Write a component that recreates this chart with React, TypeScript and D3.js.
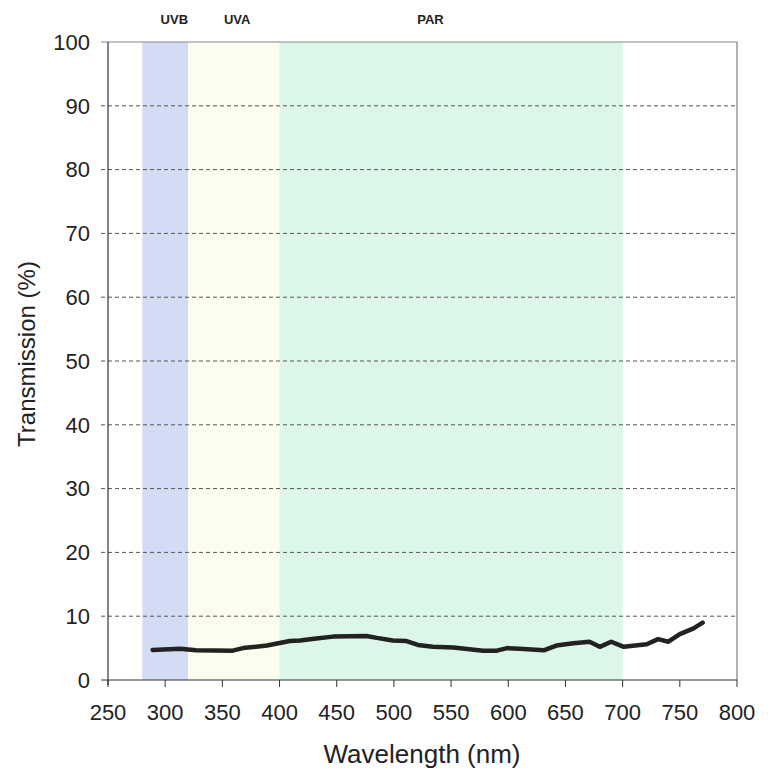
import React from 'react';
import * as d3 from 'd3';

// transmission curve
const wavelengths = [289, 313, 327, 359, 368, 389, 409, 418, 432, 447, 476, 485, 499, 511, 521, 534, 552, 578, 590, 599, 610, 631, 642, 657, 671, 680, 690, 701, 721, 731, 740, 750, 762, 770];
const transmission = [4.7, 4.9, 4.65, 4.6, 5.0, 5.4, 6.1, 6.2, 6.5, 6.8, 6.9, 6.6, 6.2, 6.1, 5.5, 5.2, 5.1, 4.6, 4.6, 5.0, 4.9, 4.65, 5.4, 5.75, 6.0, 5.2, 6.0, 5.2, 5.6, 6.4, 6.0, 7.2, 8.1, 9.0];

const bandNames = ['UVB', 'UVA', 'PAR'];
const bandStart = [280, 320, 400];
const bandEnd = [320, 400, 700];
const bandColors = ['#d3dcf5', '#fdfdef', '#dcf6ea'];
const bandLabelAt = [308, 363, 532];

const xTicks = [250, 300, 350, 400, 450, 500, 550, 600, 650, 700, 750, 800];
const yTicks = [0, 10, 20, 30, 40, 50, 60, 70, 80, 90, 100];

const width = 768;
const height = 769;
const font = 'Liberation Sans, Arial, sans-serif';

export default function App() {
    const x = d3.scaleLinear().domain([250, 800]).range([108, 737]);
    const y = d3.scaleLinear().domain([0, 100]).range([680, 42]);

    const points = wavelengths.map((w, i) => [w, transmission[i]] as [number, number]);
    const line = d3.line<[number, number]>()
        .x(d => x(d[0]))
        .y(d => y(d[1]));

    const [x0, x1] = x.range();
    const [yBottom, yTop] = y.range();

    return (
        <svg width={width} height={height} style={{ position: 'absolute', left: 0, top: 0, background: '#fff' }}>
            {/* spectral bands */}
            {bandNames.map((name, i) => (
                <rect key={name}
                    x={x(bandStart[i])} y={yTop}
                    width={x(bandEnd[i]) - x(bandStart[i])} height={yBottom - yTop}
                    fill={bandColors[i]} />
            ))}
            {bandNames.map((name, i) => (
                <text key={'l' + name} x={x(bandLabelAt[i])} y={24} textAnchor="middle"
                    fontFamily={font} fontWeight="bold" fontSize={13} fill="#222">{name}</text>
            ))}

            {/* grid */}
            {yTicks.filter(t => t > 0 && t < 100).map(t => (
                <line key={t} x1={x0 - 7} x2={x1} y1={y(t)} y2={y(t)}
                    stroke="#555" strokeWidth={1} strokeDasharray="4,3" />
            ))}
            <line x1={x0 - 7} x2={x1} y1={y(100)} y2={y(100)} stroke="#888" strokeWidth={1.2} />
            <line x1={x1} x2={x1} y1={yTop} y2={yBottom} stroke="#666" strokeWidth={1} />

            {/* axes */}
            <line x1={x0} x2={x0} y1={yTop} y2={yBottom + 5} stroke="#333" strokeWidth={1.2} />
            <line x1={x0 - 7} x2={x1} y1={yBottom} y2={yBottom} stroke="#333" strokeWidth={1.2} />
            {xTicks.map(t => (
                <line key={'xt' + t} x1={x(t)} x2={x(t)} y1={yBottom} y2={yBottom + 7} stroke="#333" strokeWidth={1} />
            ))}
            {yTicks.map(t => (
                <text key={'yl' + t} x={90} y={y(t)} dy="0.35em" textAnchor="end"
                    fontFamily={font} fontSize={22} fill="#222">{t}</text>
            ))}
            {xTicks.map(t => (
                <text key={'xl' + t} x={x(t)} y={720} textAnchor="middle"
                    fontFamily={font} fontSize={22} fill="#222">{t}</text>
            ))}

            {/* titles */}
            <text x={422} y={763} textAnchor="middle" fontFamily={font} fontSize={26} fill="#222">Wavelength (nm)</text>
            <text transform="translate(35,354) rotate(-90)" textAnchor="middle" fontFamily={font} fontSize={24} fill="#222">Transmission (%)</text>

            {/* transmission curve */}
            <path d={line(points) || ''} fill="none" stroke="#222" strokeWidth={4.5}
                strokeLinejoin="round" strokeLinecap="round" />
        </svg>
    );
}
